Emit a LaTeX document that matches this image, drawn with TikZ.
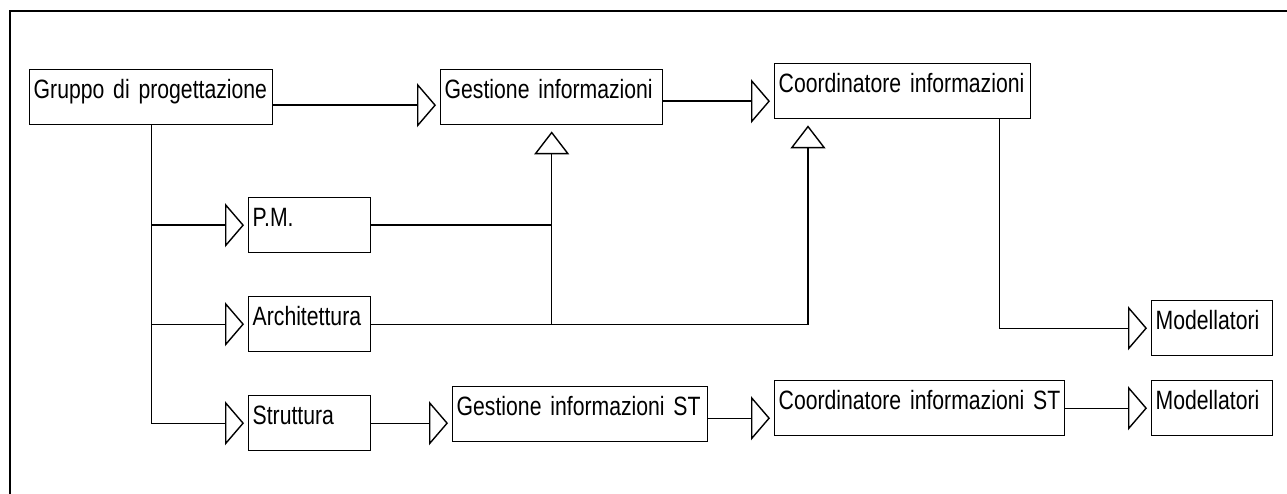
\documentclass[tikz,border=0pt]{standalone}
\usepackage{fontspec}
\setmainfont{Liberation Sans}[FakeStretch=0.8, WordSpace=0.8]
\usepackage{tikz}
\usetikzlibrary{arrows.meta}
\tikzset{x=1pt, y=-1pt,
    unit/.style={draw=black, line width=1.4pt, anchor=north west,
          inner xsep=4pt, inner ysep=0pt, align=left,
          text height=29pt, text depth=26pt,
          font=\fontsize{26.5}{30}\selectfont},
    link/.style={draw=black, line width=1.4pt},
    right arrow/.style={link, -{Triangle[open, length=19pt, width=44pt]}, shorten >=4pt},
    up arrow/.style={link, -{Triangle[open, length=23pt, width=35pt]}, shorten >=6pt}
    }
\def\Unit#1#2#3#4{%
\node[unit, text width=#3pt] (#1) at (#2) {\mbox{#4}};
}

\begin{document}
\begin{tikzpicture}
\useasboundingbox (0,0) rectangle (1287,494);
\draw[line width=2.5pt] (10,494) -- (10,11) -- (1287,11);
\Unit{gruppo}{29,69}{235}{Gruppo di progettazione}
\Unit{gestione}{440,69}{214}{Gestione informazioni}
\Unit{coord}{774,63}{248}{Coordinatore informazioni}
\Unit{pm}{248,197}{114}{P.M.}
\Unit{arch}{248,296}{114}{Architettura}
\Unit{strutt}{248,395}{114}{Struttura}
\Unit{gestST}{452,386}{247}{Gestione informazioni ST}
\Unit{coordST}{774,380}{282}{Coordinatore informazioni ST}
\Unit{mod1}{1151,300}{113}{Modellatori}
\Unit{mod2}{1151,380}{113}{Modellatori}
% top row
\draw[right arrow] ([yshift=-8pt]gruppo.east) -- ([yshift=-8pt]gruppo.east -| gestione.west);
\draw[right arrow] ([yshift=-4pt]gestione.east) -- ([yshift=-4pt]gestione.east -| coord.west);
% branches
\draw[right arrow] (gruppo.south) |- (strutt.west);
\draw[right arrow] (gruppo.south |- pm.west) -- (pm.west);
\draw[right arrow] (gruppo.south |- arch.west) -- (arch.west);
\draw[link] (pm.east) -- (pm.east -| gestione.south);
\draw[up arrow] (arch.east -| gestione.south) -- (gestione.south);
\draw[up arrow] (arch.east) -| ([xshift=34pt]coord.south west);
\draw[right arrow] ([xshift=-32pt]coord.south east) |- (mod1.west);
% bottom row
\draw[right arrow] (strutt.east) -- (strutt.east -| gestST.west);
\draw[right arrow] ([yshift=-4pt]gestST.east) -- ([yshift=-4pt]gestST.east -| coordST.west);
\draw[right arrow] (coordST.east) -- (coordST.east -| mod2.west);
\end{tikzpicture}
\end{document}
